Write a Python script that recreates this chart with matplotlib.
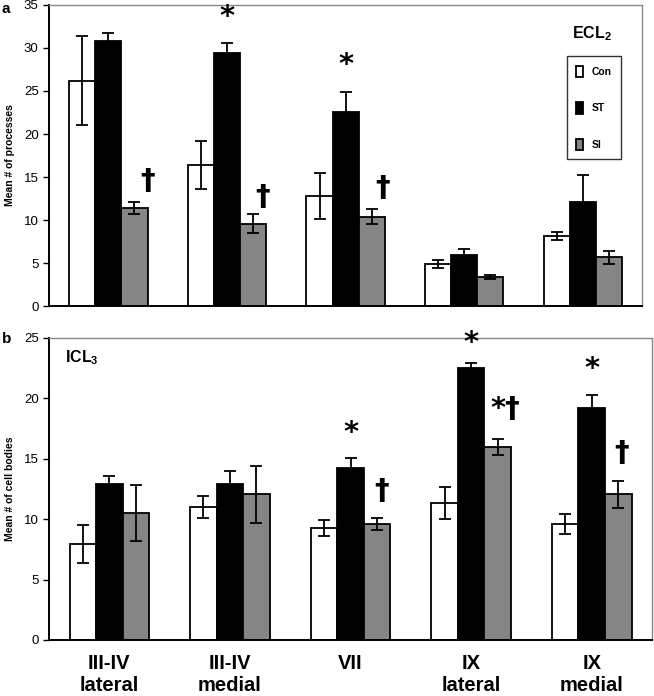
import numpy as np
import matplotlib.pyplot as plt
from matplotlib.patches import Patch

plt.rcParams.update({
    "font.family": ["Liberation Sans", "DejaVu Sans"],
    "mathtext.fontset": "custom",
    "mathtext.rm": "Liberation Sans:bold",
    "mathtext.default": "rm",
})

regions = ["III-IV\nlateral", "III-IV\nmedial", "VII", "IX\nlateral", "IX\nmedial"]
groups = ["Con", "ST", "SI"]
colors = ["white", "black", "#858585"]

# panel a: ECL2, mean # of processes
proc_mean = {"Con": [26.2, 16.4, 12.8, 4.9, 8.2],
             "ST": [30.85, 29.4, 22.6, 5.9, 12.1],
             "SI": [11.4, 9.6, 10.4, 3.4, 5.7]}
proc_err = {"Con": [5.2, 2.8, 2.65, 0.5, 0.45],
            "ST": [0.9, 1.2, 2.3, 0.7, 3.1],
            "SI": [0.7, 1.1, 0.9, 0.2, 0.75]}

# panel b: ICL3, mean # of cell bodies
cell_mean = {"Con": [7.95, 11.0, 9.25, 11.35, 9.6],
             "ST": [12.95, 12.95, 14.25, 22.55, 19.2],
             "SI": [10.5, 12.05, 9.6, 16.0, 12.05]}
cell_err = {"Con": [1.55, 0.9, 0.67, 1.3, 0.8],
            "ST": [0.65, 1.0, 0.8, 0.35, 1.05],
            "SI": [2.3, 2.35, 0.48, 0.65, 1.1]}

# significance marks: (group idx, x offset, y, text)
proc_marks = [(0, 0.33, 14.6, "†"), (1, 0.0, 33.6, "*"), (1, 0.30, 12.7, "†"),
              (2, 0.0, 28.0, "*"), (2, 0.31, 13.7, "†")]
cell_marks = [(2, 0.0, 17.1, "*"), (2, 0.26, 12.3, "†"), (3, 0.0, 24.6, "*"),
              (3, 0.28, 19.1, "*†"), (4, 0.0, 22.4, "*"), (4, 0.25, 15.5, "†")]

W = 0.22
x = np.arange(len(regions))

fig = plt.figure(figsize=(6.54, 6.96), dpi=100)
axa = fig.add_axes([0.075, 0.560, 0.907, 0.433])
axb = fig.add_axes([0.075, 0.0805, 0.922, 0.434])


def draw(ax, mean, err, marks, ymax, ylabel):
    for j, g in enumerate(groups):
        ax.bar(x + (j - 1) * W, mean[g], W, color=colors[j], edgecolor="black",
               linewidth=1.3, zorder=2)
        ax.errorbar(x + (j - 1) * W, mean[g], yerr=err[g], fmt="none", ecolor="black",
                    elinewidth=1.3, capsize=4.5, capthick=1.3, zorder=3)
    for i, off, y, t in marks:
        ax.text(i + off, y, t, ha="center", va="center", fontsize=21,
                fontweight="bold", family=["DejaVu Sans"])
    ax.set_xlim(-0.5, len(regions) - 0.5)
    ax.set_ylim(0, ymax)
    ax.set_yticks(np.arange(0, ymax + 1, 5))
    ax.tick_params(axis="y", labelsize=9.5, direction="out", length=4, width=1)
    ax.set_ylabel(ylabel, fontsize=7.5, fontweight="bold", labelpad=6)
    for s in ["left", "bottom"]:
        ax.spines[s].set_linewidth(1.4)
    for s in ["top", "right"]:
        ax.spines[s].set_color("#888888")
        ax.spines[s].set_linewidth(1.0)


draw(axa, proc_mean, proc_err, proc_marks, 35, "Mean # of processes")
draw(axb, cell_mean, cell_err, cell_marks, 25, "Mean # of cell bodies")

axa.set_xticks([])
axb.set_xticks(x)
axb.tick_params(axis="x", length=0, pad=10)
axb.set_xticklabels(regions, fontsize=14.5, fontweight="bold", linespacing=1.2)

axa.text(0.915, 0.905, "ECL$_2$", transform=axa.transAxes, ha="center", va="center",
         fontsize=11.5, fontweight="bold")
axb.text(0.026, 0.935, "ICL$_3$", transform=axb.transAxes, ha="left", va="center",
         fontsize=11.5, fontweight="bold")

handles = [Patch(facecolor=c, edgecolor="black", linewidth=1.3) for c in colors]
leg = axa.legend(handles, groups, loc="upper left", bbox_to_anchor=(0.864, 0.846),
                 prop={"size": 7.5, "weight": "bold"}, frameon=True, fancybox=False,
                 edgecolor="black", labelspacing=2.4, handlelength=0.7,
                 handleheight=1.3, handletextpad=0.8, borderpad=0.9)
leg.get_frame().set_linewidth(1.0)

fig.text(0.003, 0.997, "a", fontsize=11, fontweight="bold", va="top")
fig.text(0.003, 0.523, "b", fontsize=11, fontweight="bold", va="top")

fig.savefig("out.png", dpi=100)
